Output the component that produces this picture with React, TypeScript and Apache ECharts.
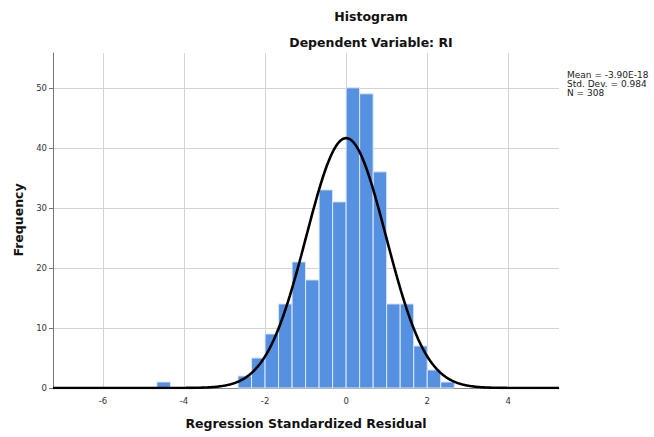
import React, { useEffect, useRef } from "react";
import * as echarts from "echarts";

// Histogram bins (lower edge, width 1/3) and frequencies
const binStart = [-4.667, -2.667, -2.333, -2, -1.667, -1.333, -1, -0.667, -0.333, 0, 0.333, 0.667, 1, 1.333, 1.667, 2, 2.333];
const counts = [1, 2, 5, 9, 14, 21, 18, 33, 31, 50, 49, 36, 14, 14, 7, 3, 1];
const BIN_WIDTH = 0.3333;

// Summary statistics shown in the legend
const MEAN = -3.9e-18;
const SD = 0.984;
const N = 308;
const statLines = ["Mean = -3.90E-18", "Std. Dev. = 0.984", "N = 308"];

const xTicks = [-6, -4, -2, 0, 2, 4];
const yTicks = [0, 10, 20, 30, 40, 50];
const X_MIN = -7.23;
const X_MAX = 5.25;
const Y_MAX = 55.8;

const FONT = "DejaVu Sans";

export default function App() {
  const ref = useRef<HTMLDivElement>(null);
  useEffect(() => {
    document.body.style.margin = "0";
    if (!ref.current) return;
    const chart = echarts.init(ref.current, null, { renderer: "svg" });

    const bars = binStart.map((s, i) => [s, s + BIN_WIDTH, counts[i]]);
    const curve: number[][] = [];
    const scale = (N * BIN_WIDTH) / (SD * Math.sqrt(2 * Math.PI));
    for (let x = X_MIN; x <= X_MAX + 1e-9; x += 0.02) {
      const z = (x - MEAN) / SD;
      curve.push([x, scale * Math.exp(-0.5 * z * z)]);
    }

    chart.setOption({
      animation: false,
      backgroundColor: "#ffffff",
      grid: { left: 53, top: 53, width: 506, height: 335, containLabel: false },
      xAxis: {
        type: "value",
        min: X_MIN,
        max: X_MAX,
        axisLine: { show: true, onZero: false, lineStyle: { color: "#888", width: 1 } },
        axisTick: { show: false, customValues: xTicks },
        axisLabel: { customValues: xTicks, color: "#333", fontSize: 8.5, fontFamily: FONT, margin: 8 },
        splitLine: { show: true, lineStyle: { color: "#d3d3d3", width: 1 } },
      },
      yAxis: {
        type: "value",
        min: 0,
        max: Y_MAX,
        axisLine: { show: true, onZero: false, lineStyle: { color: "#777", width: 1 } },
        axisTick: { show: true, length: 4, customValues: yTicks, lineStyle: { color: "#777" } },
        axisLabel: { customValues: yTicks, color: "#333", fontSize: 8.5, fontFamily: FONT, margin: 6 },
        splitLine: { show: true, lineStyle: { color: "#d3d3d3", width: 1 } },
      },
      series: [
        {
          type: "custom",
          data: bars,
          z: 2,
          renderItem: (params: any, api: any) => {
            const p0 = api.coord([api.value(0), api.value(2)]);
            const p1 = api.coord([api.value(1), 0]);
            return {
              type: "rect",
              shape: { x: p0[0], y: p0[1], width: p1[0] - p0[0], height: p1[1] - p0[1] },
              style: { fill: "#5591e0", stroke: "#dce7f7", lineWidth: 1 },
            };
          },
        },
        {
          type: "line",
          data: curve,
          z: 3,
          showSymbol: false,
          symbol: "none",
          smooth: false,
          lineStyle: { color: "#000", width: 2.6 },
        },
      ],
      graphic: [
        {
          type: "text",
          x: 371,
          y: 16,
          style: { text: "Histogram", font: `bold 12.5px "${FONT}"`, fill: "#111", align: "center", verticalAlign: "middle" },
        },
        {
          type: "text",
          x: 371,
          y: 42,
          style: { text: "Dependent Variable: RI", font: `bold 12.5px "${FONT}"`, fill: "#111", align: "center", verticalAlign: "middle" },
        },
        {
          type: "text",
          x: 306,
          y: 423,
          style: { text: "Regression Standardized Residual", font: `bold 12.5px "${FONT}"`, fill: "#111", align: "center", verticalAlign: "middle" },
        },
        {
          type: "text",
          x: 18,
          y: 220,
          rotation: Math.PI / 2,
          style: { text: "Frequency", font: `bold 12.5px "${FONT}"`, fill: "#111", align: "center", verticalAlign: "middle" },
        },
        ...statLines.map((t, i) => ({
          type: "text",
          x: 567,
          y: 75 + i * 9,
          style: { text: t, font: `9px "${FONT}"`, fill: "#222", align: "left", verticalAlign: "middle" },
        })),
      ],
    });
    return () => chart.dispose();
  }, []);
  return <div ref={ref} style={{ width: 654, height: 437 }} />;
}
